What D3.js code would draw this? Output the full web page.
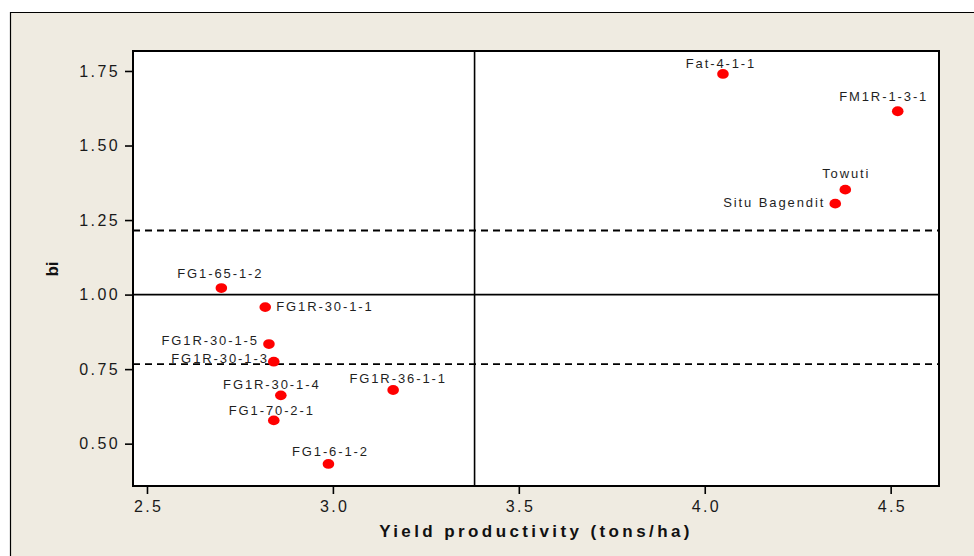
<!DOCTYPE html>
<html>
<head>
<meta charset="utf-8">
<script src="https://cdn.jsdelivr.net/npm/d3@7"></script>
<style>
  html, body { margin: 0; padding: 0; background: #ffffff; }
  svg { display: block; }
  text { font-family: "Liberation Sans", Arial, sans-serif; }
</style>
</head>
<body>
<svg id="chart" width="974" height="556"></svg>
<script>
// Genotypes: mean yield (tons/ha) against regression coefficient bi
const genotypes = ["FG1-65-1-2", "FG1R-30-1-1", "FG1R-30-1-5", "FG1R-30-1-3",
  "FG1R-30-1-4", "FG1-70-2-1", "FG1-6-1-2", "FG1R-36-1-1",
  "Fat-4-1-1", "FM1R-1-3-1", "Towuti", "Situ Bagendit"];
const yieldValues = [2.700, 2.818, 2.828, 2.841, 2.860, 2.841, 2.988, 3.162,
  4.049, 4.519, 4.378, 4.351];
const biValues = [1.022, 0.958, 0.834, 0.775, 0.662, 0.578, 0.432, 0.680,
  1.740, 1.615, 1.352, 1.305];

const xTicks = [2.5, 3.0, 3.5, 4.0, 4.5];
const yTicks = [0.50, 0.75, 1.00, 1.25, 1.50, 1.75];

// Reference lines: grand mean yield, bi = 1 and its confidence limits
const meanYield = 3.381;
const biReference = 1.0;
const biLimits = [1.215, 0.767];

// Label placement around each point: [anchor, dx, dy]
const labelPlacement = {
  "FG1-65-1-2":   ["middle", -1, -10],
  "FG1R-30-1-1":  ["start", 11, 4],
  "FG1R-30-1-5":  ["end", -10, 1],
  "FG1R-30-1-3":  ["end", -5, 1],
  "FG1R-30-1-4":  ["middle", -9, -6],
  "FG1-70-2-1":   ["middle", -2, -5],
  "FG1-6-1-2":    ["middle", 2, -8],
  "FG1R-36-1-1":  ["middle", 5, -7],
  "Fat-4-1-1":    ["middle", -2, -6],
  "FM1R-1-3-1":   ["middle", -14, -10],
  "Towuti":       ["middle", 1, -12],
  "Situ Bagendit":["end", -10, 3]
};

const points = genotypes.map((g, i) => ({ name: g, x: yieldValues[i], y: biValues[i] }));

const svg = d3.select("#chart");
const plot = { left: 133, right: 939, top: 51, bottom: 486 };

// Beige panel with a thin frame on the top and left
svg.append("rect").attr("x", 10).attr("y", 12).attr("width", 974).attr("height", 556)
  .attr("fill", "#efebe1");
svg.append("path").attr("d", "M10.5,556 V12.5 H974")
  .attr("fill", "none").attr("stroke", "#000").attr("stroke-width", 1.2);

const x = d3.scaleLinear().domain([2.4624, 4.630]).range([plot.left, plot.right]);
const y = d3.scaleLinear().domain([0.358, 1.817]).range([plot.bottom, plot.top]);

// Plot area
svg.append("rect")
  .attr("x", plot.left).attr("y", plot.top)
  .attr("width", plot.right - plot.left).attr("height", plot.bottom - plot.top)
  .attr("fill", "#ffffff");

svg.append("clipPath").attr("id", "plotClip").append("rect")
  .attr("x", plot.left).attr("y", plot.top)
  .attr("width", plot.right - plot.left).attr("height", plot.bottom - plot.top);

const lines = svg.append("g").attr("clip-path", "url(#plotClip)");

lines.selectAll(".limit").data(biLimits).join("line")
  .attr("class", "limit")
  .attr("x1", plot.left).attr("x2", plot.right)
  .attr("y1", d => y(d)).attr("y2", d => y(d))
  .attr("stroke", "#000").attr("stroke-width", 1.8)
  .attr("stroke-dasharray", "7,5");

lines.append("line")
  .attr("x1", plot.left).attr("x2", plot.right)
  .attr("y1", y(biReference)).attr("y2", y(biReference))
  .attr("stroke", "#000").attr("stroke-width", 1.6);

lines.append("line")
  .attr("x1", x(meanYield)).attr("x2", x(meanYield))
  .attr("y1", plot.top).attr("y2", plot.bottom)
  .attr("stroke", "#000").attr("stroke-width", 1.6);

// Axes
const xAxis = d3.axisBottom(x).tickValues(xTicks).tickFormat(d3.format(".1f"))
  .tickSize(8).tickPadding(7);
const yAxis = d3.axisLeft(y).tickValues(yTicks).tickFormat(d3.format(".2f"))
  .tickSize(8).tickPadding(5);

const gx = svg.append("g").attr("transform", `translate(0,${plot.bottom})`).call(xAxis);
const gy = svg.append("g").attr("transform", `translate(${plot.left},0)`).call(yAxis);

[gx, gy].forEach(g => {
  g.select(".domain").remove();
  g.selectAll(".tick line").attr("stroke", "#000").attr("stroke-width", 1.6);
  g.selectAll(".tick text")
    .attr("fill", "#1a1a1a")
    .style("font-size", "16px")
    .style("letter-spacing", "2.4px");
});
gx.selectAll(".tick text").attr("dx", "1.2px");

// Points and labels
svg.append("g").selectAll("ellipse").data(points).join("ellipse")
  .attr("cx", d => x(d.x)).attr("cy", d => y(d.y))
  .attr("rx", 5.8).attr("ry", 4.9)
  .attr("fill", "#ff0000");

svg.append("g").selectAll("text").data(points).join("text")
  .attr("x", d => x(d.x) + labelPlacement[d.name][1])
  .attr("y", d => y(d.y) + labelPlacement[d.name][2])
  .attr("text-anchor", d => labelPlacement[d.name][0])
  .attr("fill", "#1f1f1f")
  .style("font-size", "13px")
  .style("letter-spacing", "1.9px")
  .text(d => d.name);

// Plot frame
svg.append("rect")
  .attr("x", plot.left).attr("y", plot.top)
  .attr("width", plot.right - plot.left).attr("height", plot.bottom - plot.top)
  .attr("fill", "none").attr("stroke", "#000").attr("stroke-width", 2);

// Axis titles
svg.append("text")
  .attr("x", (plot.left + plot.right) / 2).attr("y", 537)
  .attr("text-anchor", "middle")
  .attr("fill", "#111")
  .style("font-size", "17px").style("font-weight", "bold")
  .style("letter-spacing", "3.4px")
  .text("Yield productivity (tons/ha)");

svg.append("text")
  .attr("transform", "translate(58,269) rotate(-90)")
  .attr("text-anchor", "middle")
  .attr("fill", "#111")
  .style("font-size", "17px").style("font-weight", "bold")
  .text("bi");
</script>
</body>
</html>
